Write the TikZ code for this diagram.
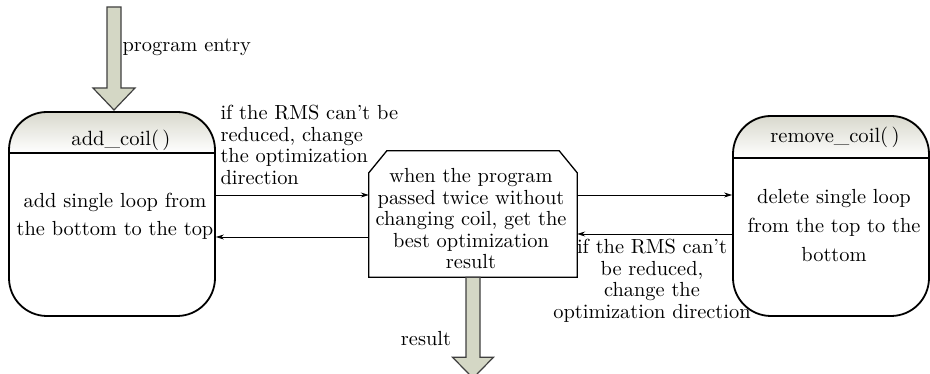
\documentclass[tikz,border=0pt]{standalone}
\usepackage{fontspec}
\setmainfont{lmroman10-regular}[Extension=.otf]
\usetikzlibrary{arrows.meta,backgrounds}
\definecolor{arrowfill}{HTML}{D4D7C5}
\definecolor{hdrtop}{HTML}{D8D8CC}
\begin{document}
\begin{tikzpicture}[x=1pt,y=-1pt,
  every node/.style={font=\fontsize{20.4}{21.5}\selectfont},
  statebox/.style={draw, line width=1.8pt, rounded corners=38pt, inner sep=0pt},
  conn/.style={line width=0.9pt, -{Stealth[length=8pt,width=5pt]}},
  blockarrow/.style={fill=arrowfill, draw=black!75, line width=1.2pt, line join=miter},
  hdrshade/.style={top color=hdrtop, bottom color=white}]
\useasboundingbox (0,0) rectangle (930,374);

% left state box
\node[statebox, minimum width=206pt, minimum height=204pt] (add) at (112,214) {};
\draw[line width=1.8pt] (add.west |- 0,153) -- (add.east |- 0,153);
\node[font=\fontsize{20.6}{24}\selectfont] (addhead) at (121,140) {add\_coil(\,)};
\node[align=center, font=\fontsize{20.4}{28}\selectfont] (addbody) at (115,216) {add single loop from\\the bottom to the top};

% middle box
\node[minimum width=208pt, minimum height=126pt, inner sep=0pt] (mid) at (473,214) {};
\draw[line width=1.3pt, line join=miter]
  ([xshift=18pt]mid.north west) -- ([xshift=-18pt]mid.north east) -- ([yshift=-22pt]mid.north east)
  -- (mid.south east) -- (mid.south west) -- ([yshift=-22pt]mid.north west) -- cycle;
\node[align=center] (midtext) at (471,219) {when the program\\passed twice without\\changing coil, get the\\best optimization\\result};

% right state box
\node[statebox, minimum width=196pt, minimum height=200pt] (rem) at (831,216) {};
\draw[line width=1.8pt] (rem.west |- 0,158) -- (rem.east |- 0,158);
\node[font=\fontsize{20.6}{24}\selectfont] (remhead) at (835,137) {remove\_coil(\,)};
\node[align=center, font=\fontsize{20.4}{29}\selectfont] (rembody) at (834,226) {delete single loop\\from the top to the\\bottom};

% header shadings, behind everything
\begin{scope}[on background layer]
  \fill[white] (0,0) rectangle (930,374);
  \shade[hdrshade] (add.west |- 0,153) {[rounded corners=38pt] -- (add.north west) -- (add.north east)} -- (add.east |- 0,153) -- cycle;
  \shade[hdrshade] (rem.west |- 0,158) {[rounded corners=38pt] -- (rem.north west) -- (rem.north east)} -- (rem.east |- 0,158) -- cycle;
\end{scope}

% connectors
\draw[conn] (add.east |- 0,195) -- (mid.west |- 0,195);
\draw[conn] (mid.east |- 0,195) -- (rem.west |- 0,195);
\draw[conn] (rem.west |- 0,234) -- (mid.east |- 0,234);
\draw[conn] (mid.west |- 0,237) -- (add.east |- 0,237);

% labels
\node[anchor=west, align=left] (lbl1) at (217,145) {if the RMS can't be\\reduced, change\\the optimization\\direction};
\node[align=center] (lbl2) at (652,281) {if the RMS can't\\be reduced,\\change the\\optimization direction};

% entry arrow
\coordinate (entrytip) at (114,110);
\draw[blockarrow] (107,7) -- (107,88) -- (93,88) -- (entrytip) -- (135,88) -- (121,88) -- (121,7) -- cycle;
\node[anchor=west] (entrylbl) at (119,47) {program entry};

% result arrow
\draw[blockarrow] ([xshift=-7pt]mid.south) -- ++(0,80) -- ++(-13.5,0) -- ++(20.5,21) -- ++(20.5,-21) -- ++(-13.5,0) -- ([xshift=7pt]mid.south) -- cycle;
\node (resultlbl) at (426,339) {result};
\end{tikzpicture}
\end{document}
